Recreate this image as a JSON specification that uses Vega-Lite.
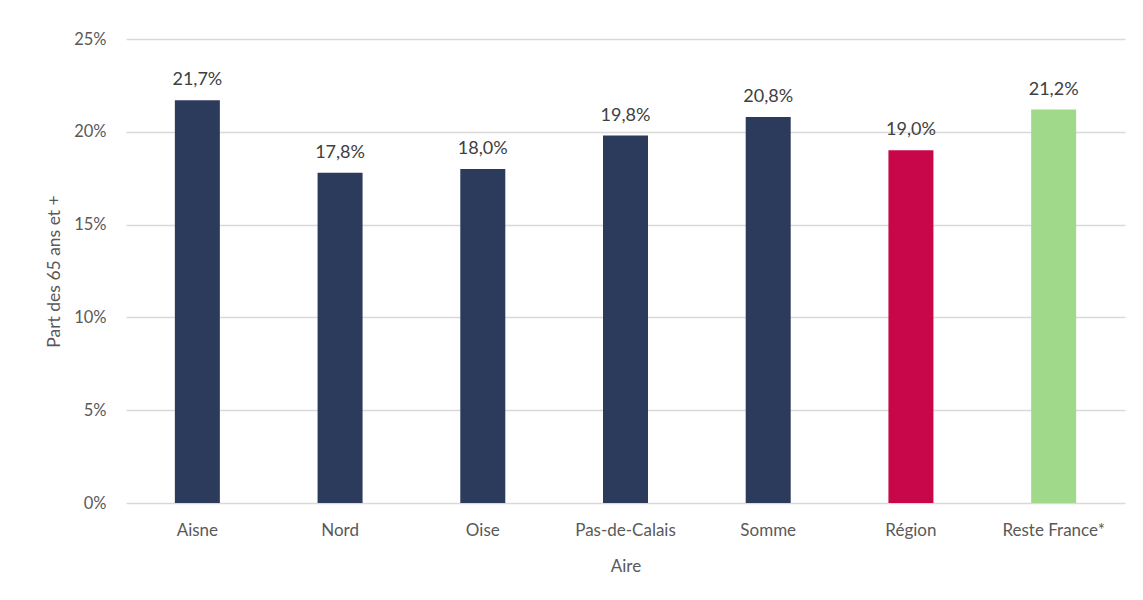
{
  "$schema": "https://vega.github.io/schema/vega-lite/v6.json",
  "autosize": "none",
  "width": 999,
  "height": 464,
  "padding": {"left": 126, "top": 39, "right": 18, "bottom": 97},
  "background": "white",
  "config": {
    "locale": {
      "number": {"decimal": ",", "thousands": " ", "grouping": [3], "currency": ["", " €"]}
    },
    "view": {"stroke": null},
    "font": "Lato"
  },
  "data": {
    "values": [
      {"Aire": "Aisne", "part": 0.217},
      {"Aire": "Nord", "part": 0.178},
      {"Aire": "Oise", "part": 0.180},
      {"Aire": "Pas-de-Calais", "part": 0.198},
      {"Aire": "Somme", "part": 0.208},
      {"Aire": "Région", "part": 0.190},
      {"Aire": "Reste France*", "part": 0.212}
    ]
  },
  "encoding": {
    "x": {
      "field": "Aire",
      "type": "nominal",
      "sort": null,
      "scale": {"paddingInner": 0, "paddingOuter": 0},
      "axis": {
        "title": "Aire",
        "labelAngle": 0,
        "labelFontSize": 17,
        "labelColor": "#595959",
        "labelPadding": 19,
        "ticks": false,
        "domain": false,
        "titleFontSize": 17,
        "titleFontWeight": "normal",
        "titleColor": "#595959",
        "titlePadding": 20
      }
    },
    "y": {
      "field": "part",
      "type": "quantitative",
      "scale": {"domain": [0, 0.25], "nice": false},
      "axis": {
        "title": "Part des 65 ans et +",
        "format": ".0%",
        "values": [0, 0.05, 0.1, 0.15, 0.2, 0.25],
        "labelFontSize": 16.5,
        "labelColor": "#595959",
        "labelPadding": 20,
        "ticks": false,
        "domain": false,
        "gridColor": "#d9d9d9",
        "gridWidth": 1.5,
        "titleFontSize": 17.5,
        "titleFontWeight": "normal",
        "titleColor": "#595959",
        "titleX": -72,
        "titleY": 232,
        "titleAngle": -90,
        "titleAlign": "center",
        "titleBaseline": "middle"
      }
    }
  },
  "layer": [
    {
      "mark": {"type": "bar", "size": 45},
      "encoding": {
        "color": {
          "field": "Aire",
          "type": "nominal",
          "scale": {
            "domain": ["Aisne", "Nord", "Oise", "Pas-de-Calais", "Somme", "Région", "Reste France*"],
            "range": ["#2c3a5c", "#2c3a5c", "#2c3a5c", "#2c3a5c", "#2c3a5c", "#c8074a", "#a1d98b"]
          },
          "legend": null
        }
      }
    },
    {
      "mark": {"type": "text", "baseline": "alphabetic", "dy": -15, "fontSize": 18, "color": "#404040"},
      "encoding": {
        "text": {"field": "part", "type": "quantitative", "format": ".1%"}
      }
    }
  ]
}
